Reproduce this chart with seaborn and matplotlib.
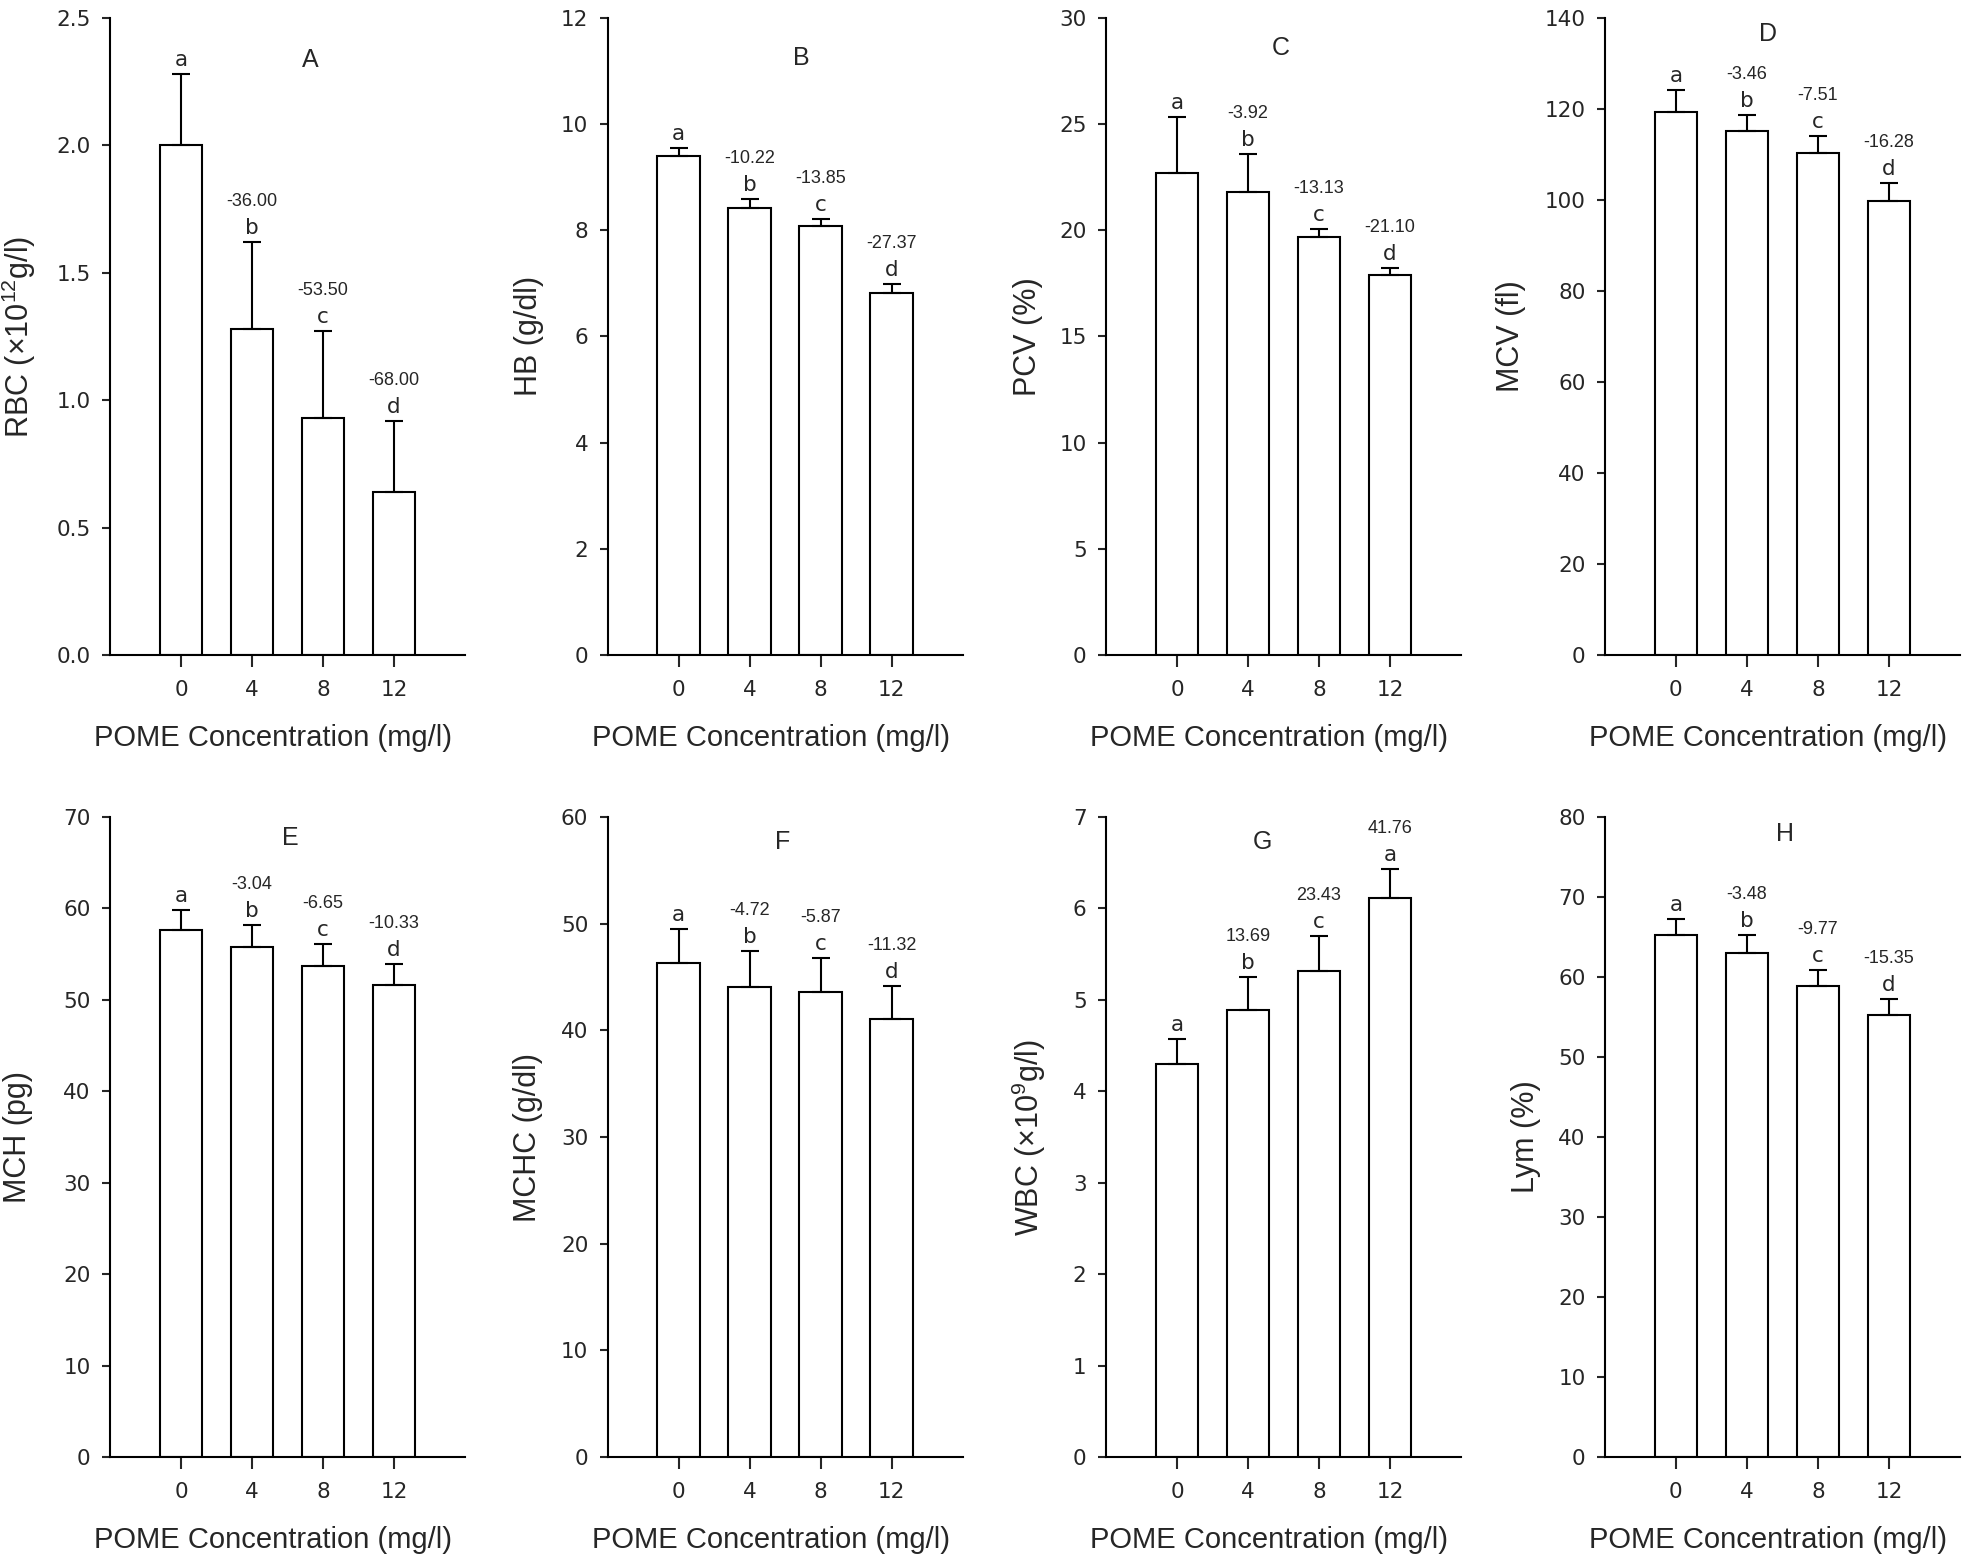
import numpy as np
import pandas as pd
import matplotlib
matplotlib.use("Agg")
import matplotlib.pyplot as plt
import matplotlib.transforms as mtransforms
from matplotlib.ticker import FormatStrFormatter
import seaborn as sns

# POME concentrations (mg/l)
conc = ["0", "4", "8", "12"]

# mean values and upper error
rbc = [2.00, 1.28, 0.93, 0.64]
rbc_err = [0.28, 0.34, 0.34, 0.28]
hb = [9.39, 8.42, 8.08, 6.81]
hb_err = [0.15, 0.17, 0.13, 0.18]
pcv = [22.7, 21.8, 19.7, 17.9]
pcv_err = [2.6, 1.8, 0.35, 0.3]
mcv = [119.2, 115.0, 110.2, 99.8]
mcv_err = [4.8, 3.6, 3.7, 3.8]
mch = [57.6, 55.8, 53.7, 51.6]
mch_err = [2.2, 2.4, 2.4, 2.3]
mchc = [46.3, 44.1, 43.6, 41.1]
mchc_err = [3.2, 3.3, 3.2, 3.1]
wbc = [4.30, 4.89, 5.32, 6.11]
wbc_err = [0.27, 0.36, 0.38, 0.32]
lym = [65.3, 63.0, 58.9, 55.3]
lym_err = [2.0, 2.2, 2.0, 2.0]

# significance letters and % change vs control
letters = ["a", "b", "c", "d"]
letters_wbc = ["a", "b", "c", "a"]
pct_rbc = ["", "-36.00", "-53.50", "-68.00"]
pct_hb = ["", "-10.22", "-13.85", "-27.37"]
pct_pcv = ["", "-3.92", "-13.13", "-21.10"]
pct_mcv = ["", "-3.46", "-7.51", "-16.28"]
pct_mch = ["", "-3.04", "-6.65", "-10.33"]
pct_mchc = ["", "-4.72", "-5.87", "-11.32"]
pct_wbc = ["", "13.69", "23.43", "41.76"]
pct_lym = ["", "-3.48", "-9.77", "-15.35"]

sns.set_theme(style="ticks")
plt.rcParams["font.family"] = ["Liberation Sans", "DejaVu Sans"]
plt.rcParams["mathtext.default"] = "regular"
plt.rcParams["axes.linewidth"] = 1.5
plt.rcParams["axes.edgecolor"] = "black"

panels = [
    ("A", rbc, rbc_err, letters, pct_rbc, "RBC (×10$^{12}$g/l)", 2.5, 0.5, (1.82, 0.933), 0.203),
    ("B", hb, hb_err, letters, pct_hb, "HB (g/dl)", 12, 2, (1.73, 0.936), 0.180),
    ("C", pcv, pcv_err, letters, pct_pcv, "PCV (%)", 30, 5, (1.46, 0.952), 0.177),
    ("D", mcv, mcv_err, letters, pct_mcv, "MCV (fl)", 140, 20, (1.30, 0.975), 0.223),
    ("E", mch, mch_err, letters, pct_mch, "MCH (pg)", 70, 10, (1.54, 0.968), 0.217),
    ("F", mchc, mchc_err, letters, pct_mchc, "MCHC (g/dl)", 60, 10, (1.47, 0.961), 0.183),
    ("G", wbc, wbc_err, letters_wbc, pct_wbc, "WBC (×10$^{9}$g/l)", 7, 1, (1.20, 0.961), 0.163),
    ("H", lym, lym_err, letters, pct_lym, "Lym (%)", 80, 10, (1.53, 0.973), 0.180),
]

fig = plt.figure(figsize=(19.68, 15.56), dpi=100)
lefts = [0.0559, 0.3088, 0.5620, 0.8155]
rows = [(0.5789, 0.4098), (0.0636, 0.4113)]

for k, (tag, vals, errs, lets, pcts, ylab, ymax, ystep, tpos, ylx) in enumerate(panels):
    bottom, height = rows[k // 4]
    ax = fig.add_axes([lefts[k % 4], bottom, 0.1804, height])
    df = pd.DataFrame({"conc": conc, "val": vals})
    sns.barplot(data=df, x="conc", y="val", order=conc, color="white",
                saturation=1, edgecolor="black", linewidth=1.5, width=0.6,
                errorbar=None, ax=ax)
    ax.errorbar(np.arange(len(conc)), vals, yerr=[np.zeros(len(vals)), errs],
                fmt="none", ecolor="black", elinewidth=1.5, capsize=6.6,
                capthick=1.5)
    for i in range(len(conc)):
        top = vals[i] + errs[i]
        ax.annotate(lets[i], (i, top), xytext=(0, 8), textcoords="offset pixels",
                    ha="center", va="baseline", fontsize=15.5, family="DejaVu Sans")
        if pcts[i]:
            ax.annotate(pcts[i], (i, top), xytext=(0, 36), textcoords="offset pixels",
                        ha="center", va="baseline", fontsize=13)
    trans = mtransforms.blended_transform_factory(ax.transData, ax.transAxes)
    ax.text(tpos[0], tpos[1], tag, transform=trans, ha="center", va="center", fontsize=18)

    ax.set_xlim(-1, 4)
    ax.set_ylim(0, ymax)
    ax.set_yticks(np.arange(0, ymax + ystep / 2, ystep))
    if tag == "A":
        ax.yaxis.set_major_formatter(FormatStrFormatter("%.1f"))
    ax.set_xlabel("POME Concentration (mg/l)", fontsize=21)
    ax.xaxis.set_label_coords(0.46, -0.108)
    ax.set_ylabel(ylab, fontsize=22)
    ax.yaxis.set_label_coords(-ylx, 0.5)
    ax.tick_params(axis="x", direction="out", length=8.5, width=1.5, pad=9.5, labelsize=15.5)
    ax.tick_params(axis="y", direction="out", length=6, width=1.5, pad=8, labelsize=15.5)
    for lbl in ax.get_xticklabels() + ax.get_yticklabels():
        lbl.set_fontfamily("DejaVu Sans")
    sns.despine(ax=ax)

fig.savefig("out.png", dpi=100, facecolor="white")
